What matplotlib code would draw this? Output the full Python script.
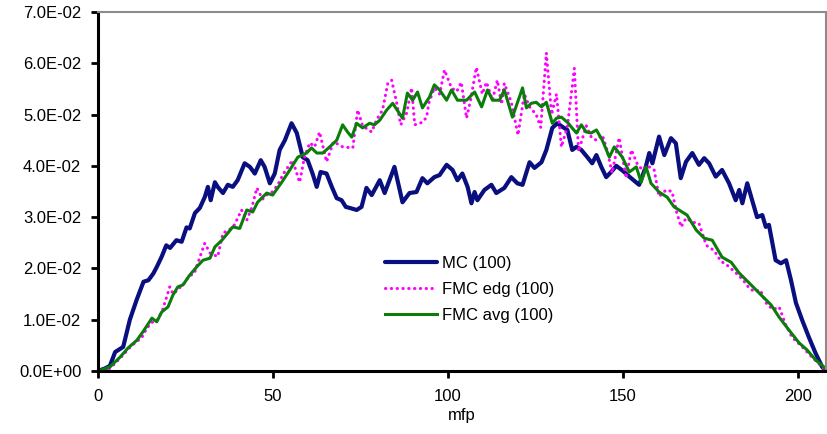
import matplotlib.pyplot as plt
import numpy as np
from matplotlib.ticker import FuncFormatter

plt.rcParams['font.family'] = ['Liberation Sans', 'DejaVu Sans']

# MC (100) - values in units of 1E-02
mc_x = [0, 2, 3.4, 4.9, 7.2, 9.1, 11, 13, 14.4, 15.8, 16.8, 18.2, 19.5, 20.6, 22.4, 23.9,
        25.3, 26.2, 27.7, 29.1, 30.5, 31.4, 32.2, 33.4, 34.2, 35.7, 37.1, 38.5, 39.9, 41.9,
        43.4, 44.8, 46.5, 47.6, 49.1, 50.5, 51.9, 53.4, 55.3, 56.8, 58.5, 59.9, 61.3, 62.5,
        63.6, 65.3, 66.8, 68.2, 69.6, 70.8, 71.9, 73.9, 75.3, 76.7, 78.2, 80.5, 81.9, 84.7,
        87, 89, 91, 92.7, 94.1, 96.1, 97.6, 99.6, 101.3, 102.7, 104.1, 105.6, 106.7, 107.6,
        108.4, 110.4, 112.4, 113.8, 116.1, 118.1, 119.8, 121.3, 123.3, 124.7, 126.7, 128.1,
        129.8, 131.2, 132.7, 134.1, 135.5, 136.7, 138.1, 139.8, 141.2, 142.4, 143.8, 145.2,
        146.6, 148.1, 150, 151.8, 154.6, 156.5, 157.5, 158.4, 160.3, 161.8, 163.7, 165.1,
        166.5, 168, 169.8, 171.7, 173.2, 174.6, 176.5, 178.3, 180.3, 182.2, 183.2, 184.1,
        185.5, 186.9, 188.3, 189.8, 190.8, 191.7, 193.6, 195.1, 196.6, 198, 199.4, 201.2,
        203.1, 205, 206.9, 208]
mc_y = [0, 0.05, 0.1, 0.37, 0.47, 1.0, 1.38, 1.74, 1.77, 1.9, 2.03, 2.23, 2.45, 2.4, 2.55, 2.52,
        2.8, 2.78, 3.08, 3.18, 3.39, 3.59, 3.33, 3.68, 3.59, 3.47, 3.63, 3.59, 3.72, 4.05,
        3.98, 3.85, 4.11, 3.98, 3.66, 3.85, 4.31, 4.5, 4.83, 4.64, 4.17, 4.11, 3.85, 3.59,
        3.88, 3.85, 3.59, 3.37, 3.33, 3.2, 3.18, 3.14, 3.2, 3.57, 3.43, 3.72, 3.47, 3.98,
        3.29, 3.47, 3.49, 3.76, 3.66, 3.78, 3.82, 4.02, 3.92, 3.72, 3.85, 3.59, 3.27, 3.49,
        3.33, 3.53, 3.63, 3.47, 3.57, 3.78, 3.66, 3.63, 4.07, 3.96, 4.07, 4.31,
        4.74, 4.83, 4.76, 4.7, 4.31, 4.37, 4.31, 4.17, 4.05, 4.21, 3.98, 3.78,
        3.88, 4.0, 3.9, 3.79, 3.63, 3.98, 4.25, 4.05, 4.57, 4.21, 4.54, 4.44,
        3.76, 4.08, 4.25, 4.02, 4.15, 4.05, 3.79, 3.92, 3.66, 3.33, 3.53, 3.27,
        3.66, 3.33, 3.0, 3.04, 2.81, 2.85, 2.16, 2.1, 2.16, 1.77, 1.33, 0.99,
        0.66, 0.35, 0.08, 0]

# FMC edg (100)
edg_x = [0, 3, 4.9, 7, 9, 10.6, 12.5, 14, 15.5, 17, 18.5, 20.5, 21.5, 23, 24.5, 26, 27.5,
         28.5, 30.5, 32, 34.2, 35.7, 37.5, 39, 41, 42.5, 44, 45.4, 47, 48.5, 50, 51.5, 53,
         54.5, 55.6, 57.6, 59, 60.5, 61.9, 63.3, 65.3, 67.3, 69.9, 72.8, 74.2, 75.6, 78.2,
         79.6, 81.3, 82.8, 83.9, 85.3, 86.5, 88.2, 89.6, 90.5, 92.7, 93.9, 94.5, 96.1, 97.6,
         99, 101, 102.5, 103.8, 105.3, 106.5, 108.1, 109.8, 111, 112.7, 114.1, 115.3, 116.1,
         118.1, 120, 121.8, 123.3, 125.2, 126.5, 128.1, 129.6, 131, 132.4, 134.1, 136.1,
         137.3, 139.5, 141, 142.4, 144.1, 145.5, 146.9, 148.9, 150.9, 152.4, 154, 155.5, 157,
         158.9, 160.3, 162.3, 164, 165.3, 166.6, 168, 170, 171.7, 173.8, 176, 178, 180, 182.3,
         184, 186, 187.5, 189.2, 191.2, 193, 194.6, 196.5, 198.3, 201.2, 204, 206.9, 208]
edg_y = [0, 0.03, 0.15, 0.3, 0.45, 0.55, 0.65, 0.84, 0.95, 1.0, 1.2, 1.64, 1.5, 1.6, 1.7, 1.85, 1.9,
         2.1, 2.49, 2.3, 2.23, 2.69, 2.75, 2.85, 3.14, 2.94, 3.2, 3.57, 3.35, 3.45, 3.5, 3.65, 3.85,
         4.0, 4.11, 3.68, 4.17, 4.45, 4.37, 4.66, 4.08, 4.47, 4.37, 4.35, 5.09, 4.78, 4.66,
         4.9, 5.09, 5.61, 5.67, 5.24, 4.8, 5.03, 5.52, 4.8, 4.85, 4.95, 5.22, 5.52, 5.4,
         5.87, 5.52, 5.45, 5.63, 4.93, 5.3, 5.92, 5.4, 5.63, 5.28, 5.67, 5.2, 5.61,
         5.24, 4.6, 5.4, 5.15, 5.0, 4.75, 6.2, 5.0, 5.4, 4.37, 4.76, 5.9,
         4.28, 4.78, 4.55, 4.5, 4.6, 4.3, 3.86, 4.55, 3.76, 4.31, 4.05, 3.92, 4.0,
         3.92, 3.4, 3.53, 3.5, 3.1, 2.81, 2.98, 2.9, 2.88, 2.45, 2.35, 2.14, 2.05, 1.91,
         1.8, 1.62, 1.55, 1.58, 1.29, 1.2, 1.25, 0.9, 0.66, 0.47, 0.27, 0.08, 0.0]

# FMC avg (100)
avg_x = [0, 3.4, 6.3, 8.6, 11.1, 12.8, 15.4, 16.8, 18.2, 20, 21.4, 22.8, 24.3, 26.2, 28.2, 30,
         32, 33.4, 35.4, 37.1, 38.5, 40.5, 42.5, 44.2, 45.6, 48.2, 49.9, 52.5, 54.8, 57.1, 59.6,
         61, 62.5, 64.2, 66.2, 68.2, 69.9, 71.3, 72.5, 73.9, 75.6, 77.6, 79, 80.5, 82.5, 84.2,
         87, 88.4, 89.9, 91.3, 92.7, 94.7, 96.1, 97.6, 99.6, 101, 102.7, 105.3, 107.6, 109.6,
         111.3, 112.7, 114.7, 116.1, 118.4, 121.3, 122.4, 123.8, 125.2, 126.7, 128.1, 129.8,
         131, 132.4, 134.1, 136.7, 138.1, 139.5, 140.9, 142.4, 144.1, 146.1, 147.5, 149.8,
         151.8, 153.8, 155.2, 156.6, 158, 160.3, 162.6, 164.6, 168.3, 170.9, 173.2, 175.5,
         178.3, 180.9, 183.2, 186, 188.9, 192.3, 194.6, 197.4, 200.3, 202.6, 205.1, 207.4, 208]
avg_y = [0, 0.08, 0.27, 0.45, 0.6, 0.76, 1.03, 0.96, 1.15, 1.25, 1.48, 1.64, 1.68, 1.87, 2.03, 2.16,
         2.2, 2.42, 2.55, 2.69, 2.81, 2.78, 3.14, 3.1, 3.29, 3.47, 3.43, 3.68, 3.92, 4.17, 4.25,
         4.35, 4.25, 4.25, 4.37, 4.5, 4.8, 4.66, 4.56, 4.83, 4.74, 4.83, 4.8, 4.89, 5.09, 5.22,
         4.93, 5.42, 5.28, 5.44, 5.13, 5.34, 5.58, 5.48, 5.28, 5.48, 5.28, 5.28, 5.44, 5.15,
         5.48, 5.28, 5.28, 5.48, 4.95, 5.52, 5.13, 5.22, 5.24, 5.15, 5.24, 4.83,
         4.93, 4.95, 4.85, 4.64, 4.8, 4.66, 4.64, 4.7, 4.5, 4.17, 4.37, 4.17,
         3.88, 3.98, 3.68, 3.98, 3.66, 3.49, 3.39, 3.2, 3.04, 2.75, 2.59, 2.55,
         2.22, 2.12, 1.91, 1.72, 1.52, 1.29, 1.05, 0.8, 0.55, 0.41, 0.21, 0.08, 0.03]

fig = plt.figure(figsize=(8.28, 4.34), dpi=100)
ax = fig.add_axes([98 / 828, 1 - 371 / 434, 728 / 828, 359 / 434])

ax.plot(mc_x, np.array(mc_y) * 1e-2, color='#0a0f80', lw=3.0,
        solid_joinstyle='round', solid_capstyle='round', label='MC (100)')
ax.plot(edg_x, np.array(edg_y) * 1e-2, color='#ff00ff', lw=2.2,
        linestyle=(0, (0.1, 1.8)), dash_capstyle='round', label='FMC edg (100)')
ax.plot(avg_x, np.array(avg_y) * 1e-2, color='#0b7d0b', lw=2.2,
        solid_joinstyle='round', label='FMC avg (100)')

ax.set_xlim(0, 208)
ax.set_ylim(0, 0.07)
ax.set_xticks([0, 50, 100, 150, 200])
ax.set_yticks(np.arange(0, 0.0701, 0.01))
ax.yaxis.set_major_formatter(FuncFormatter(lambda v, p: f'{v:.1E}'))
ax.tick_params(axis='both', direction='out', length=5, width=2, labelsize=12,
               colors='black')
ax.tick_params(axis='y', pad=7)
ax.tick_params(axis='x', pad=8)

for side in ['left', 'bottom']:
    ax.spines[side].set_linewidth(2.2)
    ax.spines[side].set_color('black')
for side in ['top', 'right']:
    ax.spines[side].set_linewidth(1.5)
    ax.spines[side].set_color('#8c8c8c')

ax.set_xlabel('mfp', fontsize=12, labelpad=3)

fig.legend(loc='upper left', bbox_to_anchor=(385 / 828, 1 - 256 / 434),
           frameon=False, fontsize=12, handlelength=3.1, handletextpad=0.3,
           borderpad=0, borderaxespad=0, labelspacing=0.65)

plt.savefig('out.png', dpi=100)
